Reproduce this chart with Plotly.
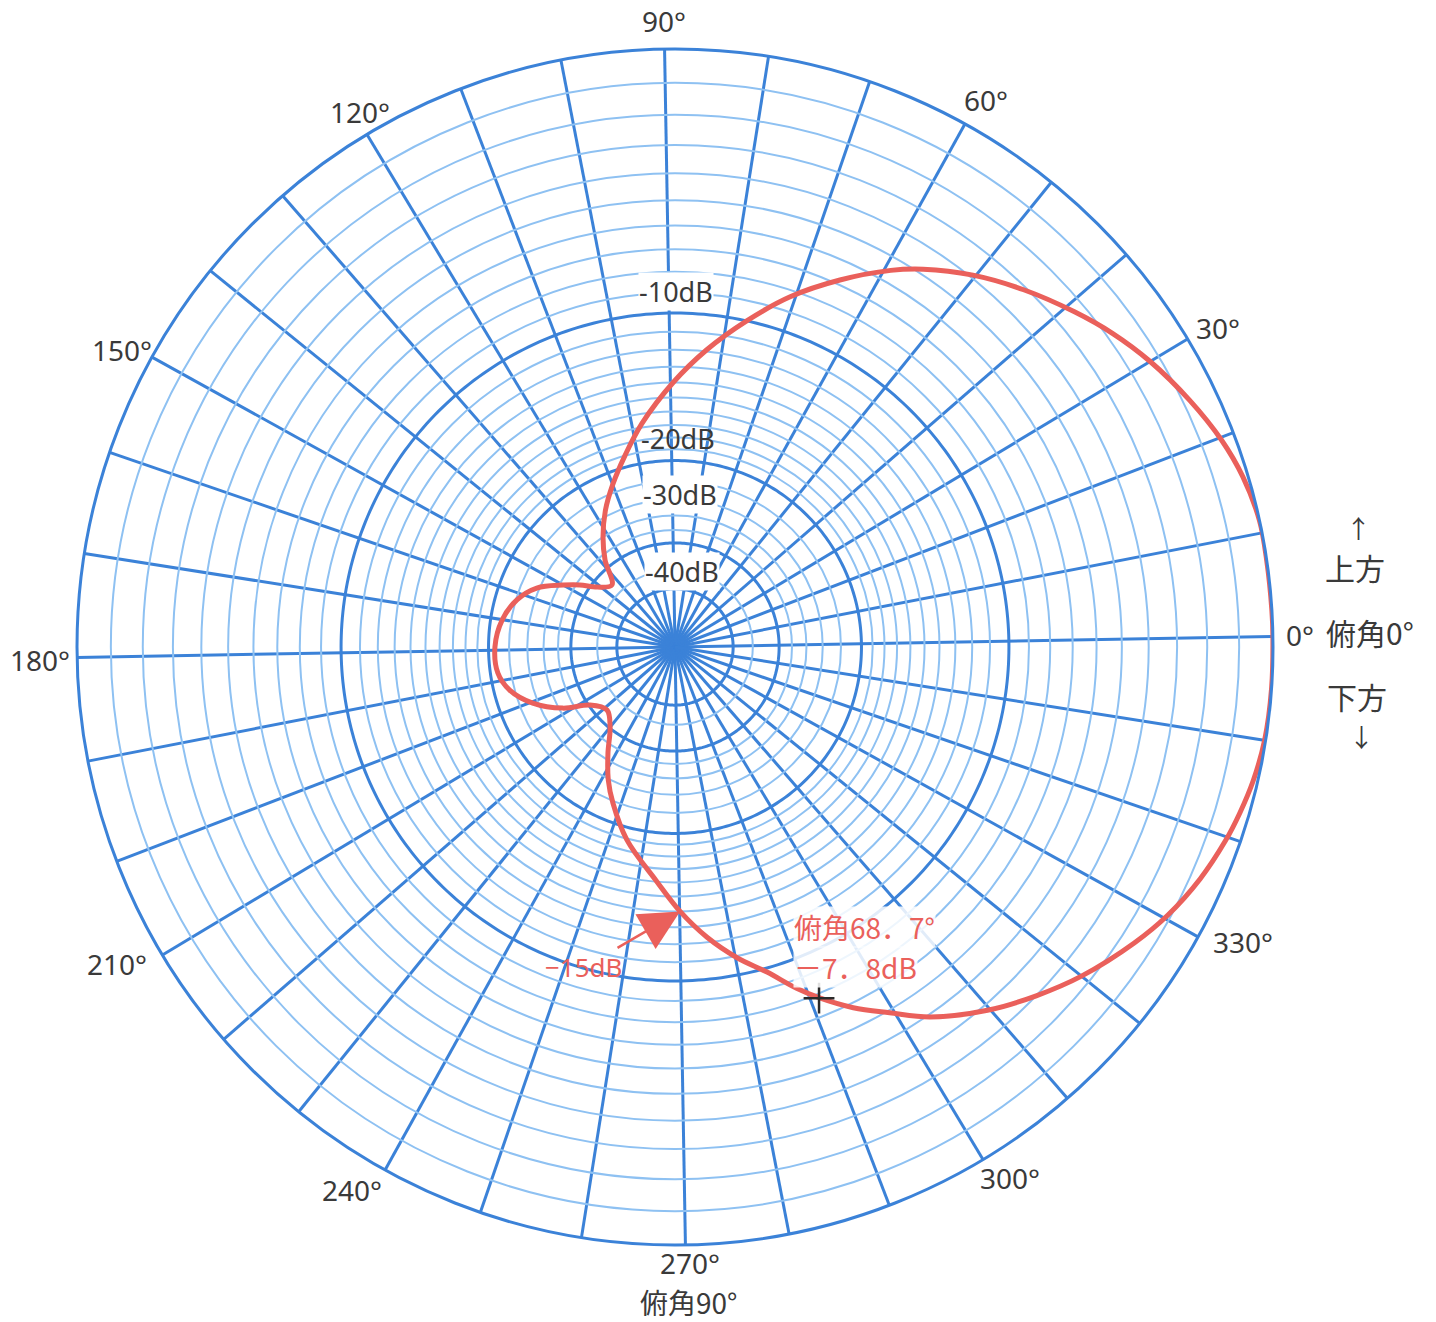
import math
import plotly.graph_objects as go

# ---------------- data ----------------
theta_deg = [0.0, 2.5, 7.3, 11.2, 15.7, 19.8, 24.6, 30.0, 34.6, 39.0, 44.7, 50.3,
             55.7, 59.2, 64.8, 70.8, 76.6, 82.9, 89.4, 97.4, 103.7, 110.0,
             116.1, 122.2, 127.8, 134.5, 141.4, 145.9, 150.0, 155.9, 162.4, 170.1,
             179.0, 187.4, 193.6, 200.5, 207.6, 213.3, 221.8, 229.9, 236.7, 242.3,
             247.3, 255.0, 264.3, 270.1, 275.3, 280.3, 284.8, 288.6,
             291.4, 295.3, 299.4, 303.6, 309.7, 315.0, 320.0, 326.2, 330.4,
             335.2, 339.6, 342.6, 346.0, 350.0, 355.0, 360.0]
gain_db = [0.0, 0.0, 0.0, 0.0, -0.15, -0.4, -0.8, -1.3, -1.8, -2.35, -3.1, -3.9,
           -4.8, -5.5, -6.8, -8.3, -10.0, -11.9, -14.0, -16.7, -19.0, -21.2,
           -23.4, -26.0, -28.8, -32.8, -31.0, -28.5, -26.5, -23.7, -22.1, -21.1,
           -20.6, -20.7, -21.5, -23.4, -26.5, -30.2, -32.0, -30.2, -26.8, -23.9,
           -21.8, -18.9, -16.1, -14.0, -12.3, -10.9, -9.8, -8.6,
           -7.8, -6.8, -5.9, -4.9, -3.8, -3.0, -2.3, -1.55, -1.1,
           -0.7, -0.42, -0.27, -0.13, -0.03, 0.0, 0.0]

marker_theta = [291.3]
marker_db = [-7.8]

arrow_theta = 270.1
arrow_db = -14.0

major_ring_db = [-10, -20, -30, -40]
minor_ring_db = [-1, -2, -3, -4, -5, -6, -7, -8, -9,
                 -11, -12, -13, -14, -15, -16, -17, -18, -19,
                 -22, -24, -26, -28, -35]
spoke_angles = list(range(0, 360, 10))
angle_label_vals = [0, 30, 60, 90, 120, 150, 180, 210, 240, 270, 300, 330]
db_labels = ["-10dB", "-20dB", "-30dB", "-40dB"]

# ---------------- layout constants ----------------
W, H = 1436, 1322
CX, CY, RPX = 675, 647, 598
ROT = 1.0

DARK = "#3B82D8"
LIGHT = "#8EC1F2"
RED = "#EA605B"
TXT = "#3a3a3a"
CJK = "Noto Sans CJK JP"
LAT = "Noto Sans"


def arrl(db):
    """ARRL log-periodic radial scale: 0.89 per 2 dB."""
    return 0.89 ** (-db / 2.0)


def to_paper(theta, db):
    rr = arrl(db) * RPX
    a = math.radians(theta + ROT)
    x = CX + rr * math.cos(a)
    y = CY - rr * math.sin(a)
    return x / W, 1 - y / H


def P(x, y):
    return x / W, 1 - y / H


fig = go.Figure()

ring_theta = list(range(0, 361))
for db in major_ring_db:
    fig.add_trace(go.Scatterpolar(
        r=[arrl(db)] * len(ring_theta), theta=ring_theta, mode="lines",
        line=dict(color=DARK, width=3), hoverinfo="skip", showlegend=False))

fig.add_trace(go.Scatterpolar(
    r=[arrl(d) for d in gain_db], theta=theta_deg, mode="lines",
    line=dict(color=RED, width=5, shape="spline", smoothing=1.0),
    showlegend=False))

fig.add_trace(go.Scatterpolar(
    r=[arrl(d) for d in marker_db], theta=marker_theta, mode="markers",
    marker=dict(symbol="cross-thin", size=22, line=dict(color="#2a2a2a", width=2.5)),
    showlegend=False))

x0, x1 = (CX - RPX) / W, (CX + RPX) / W
y0, y1 = (H - CY - RPX) / H, (H - CY + RPX) / H

fig.update_layout(
    width=W, height=H, margin=dict(l=0, r=0, t=0, b=0),
    paper_bgcolor="white", plot_bgcolor="white", showlegend=False,
    polar=dict(
        domain=dict(x=[x0, x1], y=[y0, y1]),
        bgcolor="white",
        radialaxis=dict(range=[0, 1], tickvals=[arrl(d) for d in minor_ring_db],
                        showticklabels=False, ticks="", showline=False,
                        gridcolor=LIGHT, gridwidth=2),
        angularaxis=dict(direction="counterclockwise", rotation=ROT,
                         tickvals=spoke_angles, showticklabels=False, ticks="",
                         gridcolor=DARK, gridwidth=3, showline=True,
                         linecolor=DARK, linewidth=3),
    ),
)


def txt(x, y, t, size, color=TXT, family=LAT, xa="center", **kw):
    px, py = P(x, y)
    d = dict(x=px, y=py, xref="paper", yref="paper", text=t, showarrow=False,
             xanchor=xa, yanchor="middle", font=dict(family=family, size=size, color=color))
    d.update(kw)
    return d


ann = []
# angle labels (placed around the outer circle as in the reference)
angle_pos = {0: (1300, 635), 30: (1218, 328), 60: (986, 100), 90: (664, 21),
             120: (360, 112), 150: (122, 350), 180: (40, 660), 210: (117, 964),
             240: (352, 1190), 270: (690, 1263), 300: (1010, 1178), 330: (1243, 942)}
for a in angle_label_vals:
    x, y = angle_pos[a]
    ann.append(txt(x, y, f"{a}°", 28))

db_pos = [(676, 292), (678, 438), (680, 494), (682, 571)]
for t, (x, y) in zip(db_labels, db_pos):
    if t == "-20dB":
        ann.append(txt(x, y, t, 27))
    else:
        ann.append(txt(x, y, t, 27, bgcolor="white", borderpad=0))

for t, x, y, s in [("↑", 1358, 527, 25), ("上方", 1355, 567, 30),
                   ("下方", 1357, 696, 30), ("↓", 1361, 736, 25)]:
    ann.append(txt(x, y, t, s, family=CJK))
ann.append(txt(1324, 632, "俯角0°", 30, family=CJK, xa="left"))
ann.append(txt(688, 1302, "俯角90°", 28, family=CJK))

# red annotations
tx, ty = to_paper(arrow_theta, arrow_db)
ann.append(dict(x=tx, y=ty, xref="paper", yref="paper", text="−15dB",
                showarrow=True, arrowhead=2, arrowsize=3.2, arrowwidth=2.5,
                arrowcolor=RED, ax=-96, ay=56,
                font=dict(family=LAT, size=26, color=RED)))
ann.append(txt(793, 927, "俯角68．7°", 28, color=RED, family=CJK, xa="left",
               bgcolor="rgba(255,255,255,0.85)", borderpad=0))
ann.append(txt(793, 967, "－7．8dB", 28, color=RED, family=CJK, xa="left",
               bgcolor="rgba(255,255,255,0.85)", borderpad=0))

fig.update_layout(annotations=ann)

fig.write_html("out.html", config={"displayModeBar": False},
               post_script="document.body.style.margin='0';document.body.style.overflow='hidden';")
